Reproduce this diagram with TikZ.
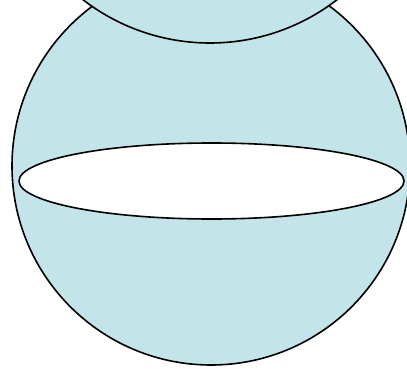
\documentclass[tikz,border=0pt]{standalone}
\usepackage{tikz}
\usepackage{xcolor}
\definecolor{paleblue}{RGB}{195,228,232}

\begin{document}
\begin{tikzpicture}[x=1pt,y=1pt,
		ball/.style={fill=paleblue,draw=black,line width=1.6pt},
		slice/.style={fill=white,draw=black,line width=1.6pt}]

			\useasboundingbox (0,0) rectangle (407,368);
			\clip (0,0) rectangle (407,368);

			% lower sphere
			\draw[ball] (211,202) circle (199);

			% upper sphere, cut by the top edge
			\draw[ball] (210,533) circle (208);

			% cross section
			\draw[slice] (211.5,187) ellipse (192.5 and 38);

		\end{tikzpicture}
\end{document}
